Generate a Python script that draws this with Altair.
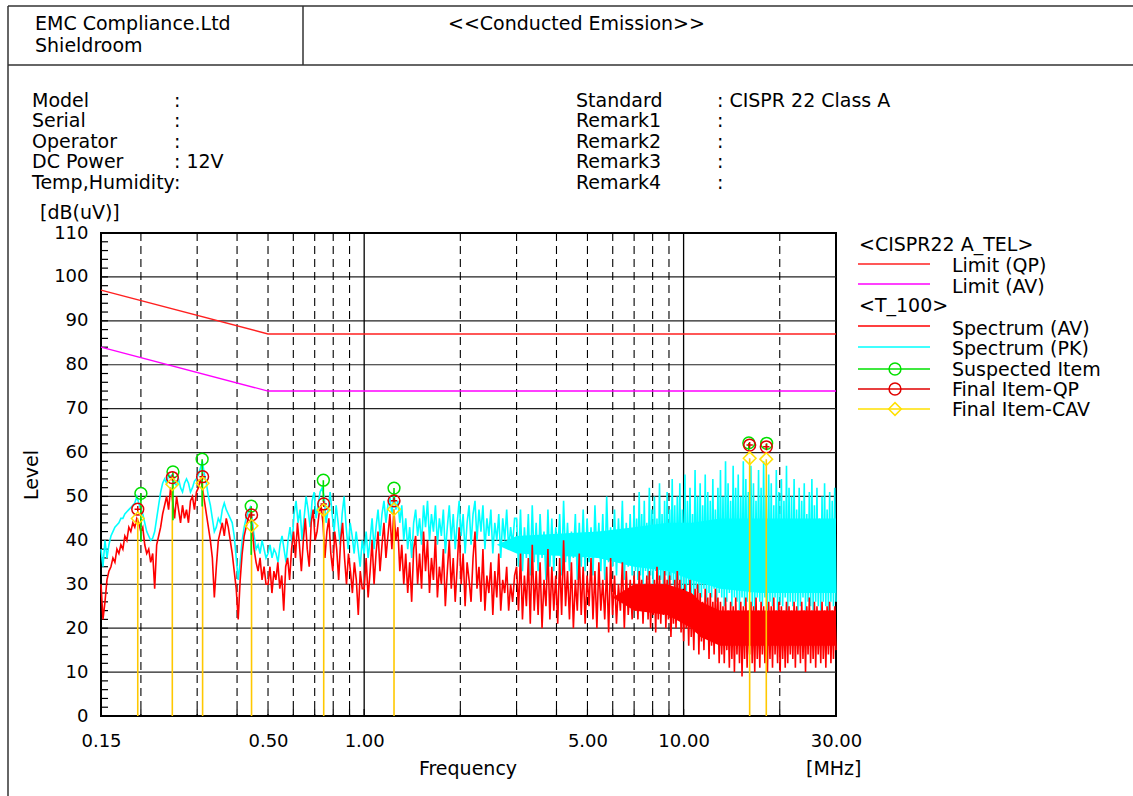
import altair as alt
import pandas as pd

FONT = "DejaVu Sans"
TS = 19
W, H = 735, 483
L0, T0 = 101, 233

# ---------------- data ----------------
lim_freq = [0.15, 0.5, 30.0]
lim_qp = [97, 87, 87]
lim_av = [84, 74, 74]

seg_bounds = [0.15, 0.5, 1.0, 3.0, 7.0, 30.0]

pk_a = [38, 34, 40, 36, 39, 41, 42, 43, 43.5, 44, 45, 45, 46, 46.5, 47, 47.5, 48, 48.5, 50, 48.5,
        47, 46, 44, 42, 41, 40, 40.5, 42, 45, 48, 51, 53, 54, 53, 55, 54.5, 55, 53, 52.5, 54,
        52, 51, 53, 54, 53, 51, 52, 53.5, 54, 55, 56.5, 58, 55, 53, 50, 48, 45, 42, 43, 45,
        44, 47, 48.5, 47, 46, 45, 44, 41, 36, 31, 35, 40, 43, 45, 46.5, 47.5, 45, 41, 38, 39,
        37, 40, 38, 36]
pk_b = [37, 39, 36, 38, 37, 35, 39, 41, 38, 35, 40, 43, 39, 46, 49, 44, 47, 40, 45, 50,
        47, 43, 49, 51, 45, 48, 51, 52, 50, 44, 47, 51, 46, 42, 48, 44, 39, 46, 50, 43,
        38, 44, 41, 37, 42, 38, 34, 40]
pk_c = [37, 42, 36, 40, 45, 38, 43, 47, 41, 46, 49, 44, 48, 50, 46, 51, 47, 49, 44, 48,
        40, 45, 38, 43, 36, 44, 47, 41, 45, 39, 48, 43, 49, 40, 46, 42, 48, 39, 45, 41,
        47, 37, 43, 48, 40, 46, 38, 44, 49, 41, 46, 37, 44, 48, 39, 46, 49, 40, 47, 42,
        48, 38, 45, 41, 47, 37, 44, 40, 46, 36, 45, 40, 47, 38, 43, 39, 45]
pk_d = [45, 34, 47, 33, 43, 36, 46, 32, 48, 35, 44, 33, 46, 36, 42, 31, 47, 34, 45, 33,
        43, 37, 46, 32, 49, 35, 44, 33, 42, 36, 46, 31, 44, 34, 47, 33, 45, 35, 43, 32,
        48, 36, 44, 33, 46, 31, 50, 35, 43, 34, 47, 32, 45, 35, 49, 31, 44, 34, 46, 32]
pk_e = [48, 33, 45, 31, 51, 32, 46, 30, 49, 33, 44, 31, 52, 32, 47, 30, 50, 33, 45, 31,
        53, 31, 46, 30, 49, 32, 51, 29, 47, 31, 54, 30, 48, 29, 50, 31,
        53, 28, 47, 29, 55, 27, 49, 30, 52, 28, 46, 27, 56, 29, 50, 28, 53, 27, 48, 29,
        55, 26, 51, 28, 49, 27, 54, 29, 47, 26, 52, 28,
        56, 27, 50, 25, 58, 26, 53, 28, 49, 25, 57, 27, 52, 26, 55, 24, 50, 27, 58, 25,
        54, 26, 51, 28, 57, 25, 53, 24, 49, 27, 56, 26, 52, 25, 58, 27, 50, 24, 55, 26,
        53, 25, 48, 27, 56, 24, 51, 26, 54, 25, 49, 27, 57, 24, 52, 26,
        50, 25, 54, 26, 47, 24, 52, 25, 49, 27, 53, 24, 46, 26, 51, 25, 54, 24, 48, 26,
        52, 25, 45, 24, 50, 26, 53, 25, 47, 24, 51, 26, 49, 25, 52, 26]

av_a = [30, 22, 26, 31, 33, 34, 36, 35, 38, 37, 39, 38, 41, 40, 43, 42, 44, 43, 45, 44,
        42, 43, 39, 37, 38, 35, 37, 29, 39, 41, 43, 46, 48, 50, 47, 52, 49, 45, 50, 47,
        44, 48, 45, 47, 44, 49, 50, 47, 51, 52, 54, 52, 49, 46, 43, 40, 36, 27, 34, 40,
        42, 44, 41, 45, 43, 40, 37, 33, 29, 22, 31, 37, 41, 43, 45, 46, 43, 38, 35, 33,
        36, 31, 34, 30]
av_b = [30, 34, 28, 33, 31, 35, 29, 32, 24, 34, 36, 31, 38, 42, 36, 44, 39, 33, 40, 45,
        38, 34, 44, 47, 40, 42, 46, 48, 44, 36, 42, 45, 37, 33, 42, 38, 31, 40, 44, 36,
        30, 37, 33, 28, 35, 31, 23, 33, 29]
av_c = [29, 36, 27, 33, 40, 30, 37, 42, 33, 39, 44, 36, 41, 46, 38, 47, 40, 43, 33, 39,
        30, 37, 28, 35, 26, 38, 41, 30, 37, 29, 42, 33, 40, 28, 36, 31, 41, 27, 34, 30,
        38, 25, 33, 40, 29, 36, 26, 34, 43, 30, 37, 25, 35, 31, 26, 36, 42, 29, 34, 26,
        38, 24, 32, 28, 35, 23, 33, 27, 37, 24, 31, 28, 34, 24, 30, 26, 32]
av_d = [34, 24, 37, 22, 32, 25, 36, 21, 39, 24, 33, 23, 35, 20, 31, 25, 38, 22, 34, 24,
        32, 21, 36, 23, 40, 25, 33, 22, 35, 20, 31, 24, 37, 23, 34, 21, 32, 25, 36, 22,
        33, 20, 35, 24, 31, 22, 34, 19, 36, 23, 32, 21, 30, 24, 35, 20, 33, 23, 31, 22]
av_e = [32, 24, 30, 22, 33, 25, 31, 21, 29, 24, 32, 22, 33, 20, 30, 23, 31, 19, 34, 22,
        32, 21, 30, 23, 33, 20, 31, 22, 32, 18, 29, 21, 31, 20, 33, 22,
        31, 19, 29, 17, 30, 20, 28, 16, 31, 18, 27, 15, 29, 19, 30, 14, 28, 17, 26, 15,
        29, 18, 27, 13, 28, 16, 26, 14, 29, 17, 27, 12,
        26, 14, 25, 12, 27, 15, 24, 11, 26, 13, 25, 10, 27, 14, 24, 12, 26, 9, 25, 13,
        27, 11, 24, 14, 26, 12, 25, 10, 27, 13, 24, 11, 26, 14, 25, 12, 23, 10, 26, 13,
        25, 11, 27, 14, 24, 12, 26, 10, 25, 13, 24, 11, 26, 12, 25, 14,
        24, 13, 26, 11, 25, 14, 23, 12, 26, 13, 24, 10, 25, 14, 27, 12, 24, 13, 26, 11,
        25, 14, 23, 12, 26, 13, 24, 11, 25, 14, 26, 12, 24, 13, 25, 15]

pk_band_freq = [2.6, 3.0, 5.4, 7.0, 8.9, 10.6, 13.0, 17.4, 23.1, 30.0]
pk_band_lo = [39, 37, 36, 34, 33, 31, 29, 28, 28, 28]
pk_band_hi = [39, 41, 42, 43, 44, 44, 45, 45, 45, 45]
av_band_freq = [6.0, 7.0, 8.9, 10.6, 11.3, 13.0, 17.4, 23.1, 30.0]
av_band_lo = [27, 24, 23, 20, 18, 16, 16, 16, 16]
av_band_hi = [27, 30, 30, 28, 26, 24, 24, 24, 24]

item_freq = [0.1955, 0.2508, 0.312, 0.444, 0.747, 1.24, 16.1, 18.15]
sus_freq = [0.200, 0.252, 0.311, 0.443, 0.745, 1.24, 16.0, 18.2]
sus_level = [50.7, 55.6, 58.5, 47.8, 53.7, 51.9, 62.2, 62.1]
sus_low = [39.7, 44.6, 47.7, 36.7, 48.8, 49.2, 60.5, 60.5]
qp_level = [47.1, 54.3, 54.5, 45.8, 48.3, 49.0, 61.7, 61.3]
cav_level = [45.0, 52.8, 53.0, 43.3, 46.9, 47.1, 58.7, 58.5]

grid_dashed = [0.2, 0.3, 0.4, 0.5, 0.6, 0.7, 0.8, 0.9, 2, 3, 4, 5, 6, 7, 8, 9, 20]
grid_solid = [1, 10]
x_tick_vals = [0.15, 0.5, 1, 5, 10, 30]
y_tick_vals = list(range(0, 111, 10))
y_minor = list(range(0, 111, 2))


def sweep(bounds, segs):
    fr, lv = [], []
    for k, seg in enumerate(segs):
        f0, f1 = bounds[k], bounds[k + 1]
        n = len(seg)
        last = k == len(segs) - 1
        for i, v in enumerate(seg):
            t = i / (n - 1) if last else i / n
            fr.append(f0 * (f1 / f0) ** t)
            lv.append(v)
    return pd.DataFrame({"f": fr, "v": lv})


pk_df = sweep(seg_bounds, [pk_a, pk_b, pk_c, pk_d, pk_e])
av_df = sweep(seg_bounds, [av_a, av_b, av_c, av_d, av_e])
lim_df = pd.DataFrame({"f": lim_freq, "qp": lim_qp, "av": lim_av})
pkb_df = pd.DataFrame({"f": pk_band_freq, "lo": pk_band_lo, "hi": pk_band_hi})
avb_df = pd.DataFrame({"f": av_band_freq, "lo": av_band_lo, "hi": av_band_hi})
items_df = pd.DataFrame({"f": item_freq, "sf": sus_freq, "sus": sus_level, "slo": sus_low,
                         "qp": qp_level, "cav": cav_level, "zero": [0] * len(item_freq)})

# ---------------- scales / encodings ----------------
xscale = alt.Scale(type="log", domain=[0.15, 30], nice=False)
yscale = alt.Scale(domain=[0, 110], nice=False, zero=False)
xaxis = alt.Axis(values=x_tick_vals, format=".2f", labelFontSize=18, labelFont=FONT,
                 labelColor="black", tickSize=0, domain=False, grid=False, title=None,
                 labelPadding=16, labelFlush=False, labelOverlap=False, labelBound=False)
yaxis = alt.Axis(values=y_tick_vals, labelFontSize=18, labelFont=FONT, labelColor="black",
                 tickSize=0, domain=False, grid=False, title=None, labelPadding=13,
                 labelOverlap=False, labelBound=False)


def X(field):
    return alt.X(field, type="quantitative", scale=xscale, axis=xaxis)


def Y(field):
    return alt.Y(field, type="quantitative", scale=yscale, axis=yaxis)


one = pd.DataFrame({"a": [0]})
layers = []

# grid
layers.append(alt.Chart(pd.DataFrame({"y": y_tick_vals[1:-1]})).mark_rule(
    color="#222222", strokeWidth=1.2).encode(y=Y("y")))
layers.append(alt.Chart(pd.DataFrame({"f": grid_dashed})).mark_rule(
    color="black", strokeWidth=1.1, strokeDash=[8, 5]).encode(x=X("f")))
layers.append(alt.Chart(pd.DataFrame({"f": grid_solid})).mark_rule(
    color="black", strokeWidth=1.3).encode(x=X("f")))
layers.append(alt.Chart(pd.DataFrame({"y": y_minor})).mark_rule(
    color="black", strokeWidth=1.2).encode(y=Y("y"), x=alt.value(0), x2=alt.value(7)))
layers.append(alt.Chart(pd.DataFrame({"f": grid_dashed + grid_solid})).mark_rule(
    color="black", strokeWidth=1.2).encode(x=X("f"), y=alt.value(H - 7), y2=alt.value(H)))

# limits
layers.append(alt.Chart(lim_df).mark_line(color="#FF2020", strokeWidth=1.4).encode(x=X("f"), y=Y("qp")))
layers.append(alt.Chart(lim_df).mark_line(color="#FF00FF", strokeWidth=1.4).encode(x=X("f"), y=Y("av")))

# spectra
layers.append(alt.Chart(pkb_df).mark_area(color="#00FFFF", opacity=1).encode(
    x=X("f"), y=Y("lo"), y2="hi"))
layers.append(alt.Chart(pk_df).mark_line(color="#00FFFF", strokeWidth=1.6).encode(x=X("f"), y=Y("v")))
layers.append(alt.Chart(avb_df).mark_area(color="#FF0000", opacity=1).encode(
    x=X("f"), y=Y("lo"), y2="hi"))
layers.append(alt.Chart(av_df).mark_line(color="#FF0000", strokeWidth=1.6).encode(x=X("f"), y=Y("v")))

# items
layers.append(alt.Chart(items_df).mark_rule(color="#FFC800", strokeWidth=1.6).encode(
    x=X("f"), y=Y("cav"), y2="zero"))
layers.append(alt.Chart(items_df).mark_rule(color="#00DD00", strokeWidth=1.6).encode(
    x=X("sf"), y=Y("sus"), y2="slo"))
layers.append(alt.Chart(items_df).mark_point(shape="circle", filled=False, size=140,
                                             strokeWidth=1.5, color="#00E000", opacity=1).encode(
    x=X("sf"), y=Y("sus")))
layers.append(alt.Chart(items_df).mark_point(shape="circle", filled=False, size=140,
                                             strokeWidth=1.5, color="#E00000", opacity=1).encode(
    x=X("f"), y=Y("qp")))
layers.append(alt.Chart(items_df).mark_point(shape="M-1,0L1,0M0,-1L0,1", filled=False, size=40,
                                             strokeWidth=1.5, color="#E00000", opacity=1).encode(
    x=X("f"), y=Y("qp")))
layers.append(alt.Chart(items_df).mark_point(shape="diamond", filled=False, size=160,
                                             strokeWidth=1.5, color="#FFE000", opacity=1).encode(
    x=X("f"), y=Y("cav")))


# ---------------- annotations ----------------
def txt(s, px, py, size=TS, align="left", angle=0):
    return alt.Chart(one).mark_text(text=s, align=align, baseline="middle", font=FONT,
                                    fontSize=size, color="black", angle=angle).encode(
        x=alt.value(px - L0), y=alt.value(py - T0))


def hline(x1, x2, py, color="#333333", w=1.5):
    return alt.Chart(one).mark_rule(color=color, strokeWidth=w).encode(
        x=alt.value(x1 - L0), x2=alt.value(x2 - L0), y=alt.value(py - T0))


def vline(px, y1, y2, color="#333333", w=1.5):
    return alt.Chart(one).mark_rule(color=color, strokeWidth=w).encode(
        x=alt.value(px - L0), y=alt.value(y1 - T0), y2=alt.value(y2 - T0))


layers += [hline(8, 1140, 6), hline(8, 1140, 65), vline(8, 6, 800), vline(303, 6, 65)]
layers += [txt("EMC Compliance.Ltd", 35, 24), txt("Shieldroom", 35, 46),
           txt("<<Conducted Emission>>", 448, 24)]

left_labels = ["Model", "Serial", "Operator", "DC Power", "Temp,Humidity"]
left_vals = [":", ":", ":", ": 12V", ":"]
right_labels = ["Standard", "Remark1", "Remark2", "Remark3", "Remark4"]
right_vals = [": CISPR 22 Class A", ":", ":", ":", ":"]
row_y = [101, 121, 142, 162, 183]
for lab, val, lab2, val2, yy in zip(left_labels, left_vals, right_labels, right_vals, row_y):
    layers.append(txt(lab, 32, yy))
    layers.append(txt(val, 174, yy))
    layers.append(txt(lab2, 576, yy))
    layers.append(txt(val2, 717, yy))

layers += [txt("[dB(uV)]", 40, 213), txt("Level", 32, 475, align="center", angle=270),
           txt("Frequency", 468, 769, align="center"), txt("[MHz]", 806, 769)]

# legend
layers += [txt("<CISPR22 A_TEL>", 859, 245), txt("<T_100>", 859, 306)]
legend_rows = [("Limit (QP)", "#FF2020", 264, 266, None),
               ("Limit (AV)", "#FF00FF", 284, 287, None),
               ("Spectrum (AV)", "#FF0000", 326, 329, None),
               ("Spectrum (PK)", "#00FFFF", 347, 349, None),
               ("Suspected Item", "#00E000", 369, 370, "circle"),
               ("Final Item-QP", "#E00000", 389, 390, "circle"),
               ("Final Item-CAV", "#FFE000", 409, 410, "diamond")]
for lab, col, ly, ty, shp in legend_rows:
    layers.append(hline(858, 930, ly, color=col, w=1.5))
    layers.append(txt(lab, 952, ty))
    if shp:
        layers.append(alt.Chart(one).mark_point(shape=shp, filled=False, size=140 if shp == "circle" else 160,
                                                strokeWidth=1.5, color=col, opacity=1).encode(
            x=alt.value(895 - L0), y=alt.value(ly - T0)))

chart = alt.layer(*layers).properties(
    width=W, height=H,
    autosize=alt.AutoSizeParams(type="none"),
    padding={"left": L0, "top": T0, "right": 1133 - L0 - W, "bottom": 796 - T0 - H},
    background="white",
).configure_view(stroke="black", strokeWidth=2)

chart.save("out.html", embed_options={"renderer": "svg", "actions": False})
